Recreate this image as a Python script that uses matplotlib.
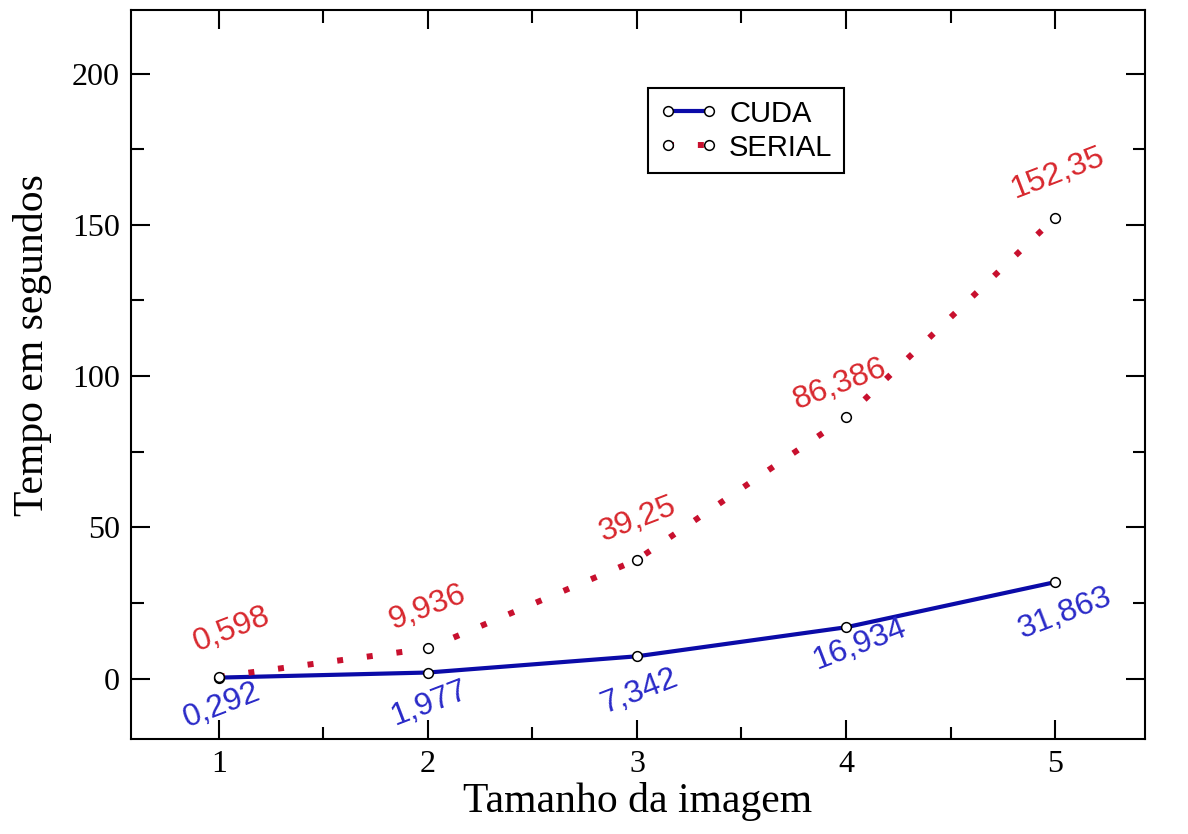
import matplotlib
matplotlib.use("Agg")
import matplotlib.pyplot as plt
from matplotlib.ticker import MultipleLocator

# dados
tamanho = [1, 2, 3, 4, 5]
cuda = [0.292, 1.977, 7.342, 16.934, 31.863]
serial = [0.598, 9.936, 39.25, 86.386, 152.35]
cuda_txt = ["0,292", "1,977", "7,342", "16,934", "31,863"]
serial_txt = ["0,598", "9,936", "39,25", "86,386", "152,35"]

# deslocamento dos rotulos (pixels)
cuda_off = [(3, -28), (2, -31), (3, -35), (14, -17), (10, -31)]
serial_off = [(13, 47), (0, 41), (1, 40), (-6, 33), (3, 44)]

fig = plt.figure(figsize=(11.88, 8.34), dpi=100)
ax = fig.add_axes([131/1188, 1-739/834, 1014/1188, 729/834])

ax.plot(tamanho, cuda, color="#0b0ba8", lw=3, marker="o", ms=7,
        mfc="white", mec="black", mew=1.1, label="CUDA")
ax.plot(tamanho, serial, color="#c8102e", lw=4.3, ls=(0, (1, 4)),
        dash_capstyle="butt", marker="o", ms=7, mfc="white", mec="black",
        mew=1.1, label="SERIAL")

for x, y, t, o in zip(tamanho, cuda, cuda_txt, cuda_off):
    ax.annotate(t, (x, y), xytext=o, textcoords="offset pixels",
                ha="center", va="center", rotation=21, color="#2a2ac8",
                fontsize=23, family="Liberation Sans")
for x, y, t, o in zip(tamanho, serial, serial_txt, serial_off):
    ax.annotate(t, (x, y), xytext=o, textcoords="offset pixels",
                ha="center", va="center", rotation=21, color="#d8282e",
                fontsize=23, family="Liberation Sans")

ax.set_xlim(0.58, 5.43)
ax.set_ylim(-20, 221)
ax.xaxis.set_major_locator(MultipleLocator(1))
ax.xaxis.set_minor_locator(MultipleLocator(0.5))
ax.yaxis.set_major_locator(MultipleLocator(50))
ax.yaxis.set_minor_locator(MultipleLocator(25))
ax.tick_params(which="both", direction="in", top=True, right=True, width=1.5)
ax.tick_params(which="major", length=14, pad=8, labelsize=23)
ax.tick_params(which="minor", length=9)
for lab in ax.get_xticklabels() + ax.get_yticklabels():
    lab.set_family("Liberation Serif")
for s in ax.spines.values():
    s.set_linewidth(1.5)

ax.set_xlabel("Tamanho da imagem", family="Liberation Serif", fontsize=30, labelpad=2)
ax.set_ylabel("Tempo em segundos", family="Liberation Serif", fontsize=30)
ax.yaxis.set_label_coords(-0.078, 0.54)

leg = ax.legend(loc="upper left", bbox_to_anchor=(0.495, 0.913),
                prop={"family": "Liberation Sans", "size": 21}, numpoints=2,
                fancybox=False, framealpha=1, edgecolor="black",
                handlelength=2.0, borderpad=0.4, labelspacing=0.2,
                handletextpad=0.4)
leg.get_frame().set_linewidth(1.5)

fig.savefig("out.png", dpi=100)
